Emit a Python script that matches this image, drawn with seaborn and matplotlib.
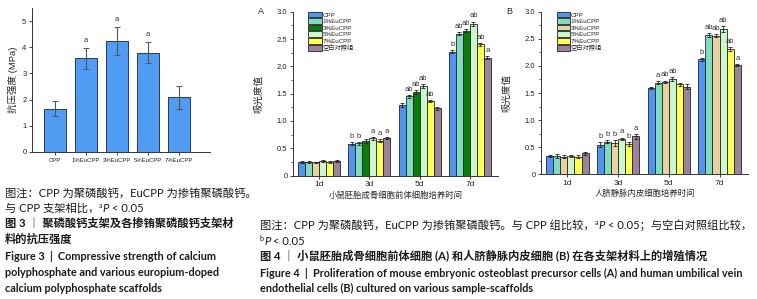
import numpy as np
import pandas as pd
import matplotlib
matplotlib.use('Agg')
import matplotlib.pyplot as plt
from matplotlib.ticker import MultipleLocator, AutoMinorLocator, FuncFormatter
import seaborn as sns

# ---- Figure 3: compressive strength ----
groups = ['CPP', '1%EuCPP', '3%EuCPP', '5%EuCPP', '7%EuCPP']
strength = [1.65, 3.58, 4.24, 3.80, 2.09]
strength_err = [0.29, 0.40, 0.52, 0.41, 0.44]
strength_sig = ['', 'a', 'a', 'a', '']

# ---- Figure 4: proliferation (absorbance) ----
days = ['1d', '3d', '5d', '7d']
series = ['CPP', '1%EuCPP', '3%EuCPP', '5%EuCPP', '7%EuCPP', '空白对照组']

a_values = [
    [0.24, 0.58, 1.29, 2.27],
    [0.25, 0.59, 1.45, 2.60],
    [0.24, 0.63, 1.53, 2.65],
    [0.26, 0.68, 1.64, 2.78],
    [0.24, 0.64, 1.37, 2.40],
    [0.27, 0.69, 1.23, 2.16],
]
a_errors = [
    [0.02, 0.03, 0.03, 0.02],
    [0.02, 0.03, 0.03, 0.03],
    [0.01, 0.03, 0.03, 0.03],
    [0.02, 0.03, 0.03, 0.04],
    [0.02, 0.03, 0.02, 0.03],
    [0.02, 0.02, 0.03, 0.02],
]
a_sig = [
    ['', 'b', '', 'b'],
    ['', 'b', 'ab', 'ab'],
    ['', '', 'ab', 'ab'],
    ['', 'a', 'ab', 'ab'],
    ['', 'a', 'ab', 'ab'],
    ['', 'a', '', 'a'],
]

b_values = [
    [0.34, 0.55, 1.60, 2.12],
    [0.34, 0.60, 1.69, 2.57],
    [0.33, 0.58, 1.71, 2.56],
    [0.34, 0.66, 1.76, 2.68],
    [0.33, 0.56, 1.66, 2.31],
    [0.39, 0.70, 1.62, 2.02],
]
b_errors = [
    [0.02, 0.04, 0.02, 0.03],
    [0.03, 0.03, 0.03, 0.03],
    [0.03, 0.05, 0.02, 0.03],
    [0.02, 0.02, 0.04, 0.05],
    [0.02, 0.03, 0.03, 0.03],
    [0.03, 0.04, 0.04, 0.02],
]
b_sig = [
    ['', 'b', '', 'b'],
    ['', 'b', 'a', 'ab'],
    ['', 'b', 'ab', 'ab'],
    ['', 'a', 'ab', 'ab'],
    ['', 'b', '', 'ab'],
    ['', 'a', '', 'a'],
]

palette_a = ['#5294f2', '#7fdcc0', '#0a7d0a', '#ccf7cc', '#ffff55', '#9a8499']
palette_b = ['#5294f2', '#7fdcc0', '#e6d3a0', '#ccf7cc', '#ffff55', '#9a8499']

sns.set_theme(style='ticks')
CHART_FONT = ['Liberation Sans', 'Noto Sans CJK SC']
CAP_FONT = ['Lato', 'Noto Sans CJK SC', 'DejaVu Sans']
plt.rcParams['font.family'] = CHART_FONT
plt.rcParams['axes.linewidth'] = 0.7
plt.rcParams['xtick.major.width'] = 0.6
plt.rcParams['ytick.major.width'] = 0.6
plt.rcParams['ytick.minor.width'] = 0.5

W, H = 757, 299
fig = plt.figure(figsize=(W / 100, H / 100), dpi=100)


def px_axes(x0, y_top, x1, y_bot):
    return fig.add_axes([x0 / W, 1 - y_bot / H, (x1 - x0) / W, (y_bot - y_top) / H])


def style_axes(ax):
    sns.despine(ax=ax)
    ax.tick_params(axis='both', direction='out', length=2.5, pad=1.5, colors='#222')
    ax.tick_params(axis='y', which='minor', length=1.5)
    for sp in ax.spines.values():
        sp.set_color('#333')


# Figure 3 chart
ax0 = px_axes(32, 8, 210, 152)
df3 = pd.DataFrame({'group': groups, 'strength': strength})
sns.barplot(data=df3, x='group', y='strength', color='#4f9cf2', saturation=1,
            width=0.7, edgecolor='#2a3a55', linewidth=0.7, errorbar=None, ax=ax0)
ax0.errorbar(range(len(groups)), strength, yerr=strength_err, fmt='none',
             ecolor='#555', elinewidth=0.8, capsize=2, capthick=0.7)
for i, (v, e, s) in enumerate(zip(strength, strength_err, strength_sig)):
    if s:
        ax0.annotate(s, (i, v + e), xytext=(0, 3), textcoords='offset points',
                     ha='center', va='bottom', fontsize=5.5, color='#333')
ax0.set_xlim(-0.74, 5.0)
ax0.set_ylim(0, 5.5)
ax0.yaxis.set_major_locator(MultipleLocator(1))
ax0.set_xlabel('')
ax0.set_ylabel('抗压强度 (MPa)', fontsize=6.8, labelpad=3)
style_axes(ax0)
ax0.tick_params(axis='x', labelsize=4.3)
ax0.tick_params(axis='y', labelsize=5.5)


def plot_absorbance(ax, values, errors, sigs, palette, xlabel, panel):
    rows = []
    for name, vals in zip(series, values):
        for d, v in zip(days, vals):
            rows.append({'day': d, 'group': name, 'od': v})
    df = pd.DataFrame(rows)
    sns.barplot(data=df, x='day', y='od', hue='group', hue_order=series,
                palette=palette, saturation=1, width=0.84, edgecolor='#222',
                linewidth=0.6, errorbar=None, ax=ax)
    for cont, err, sig in zip(ax.containers, errors, sigs):
        xs = [b.get_x() + b.get_width() / 2 for b in cont]
        hs = [b.get_height() for b in cont]
        ax.errorbar(xs, hs, yerr=err, fmt='none', ecolor='#222',
                    elinewidth=0.6, capsize=1.6, capthick=0.6)
        for x, h, e, s in zip(xs, hs, err, sig):
            if s:
                ax.annotate(s, (x, h + e), xytext=(0, 1.5), textcoords='offset points',
                            ha='center', va='bottom', fontsize=5.5, color='#333')
    ax.set_xlim(-0.52, 3.56)
    ax.set_ylim(0, 3.0)
    ax.yaxis.set_major_locator(MultipleLocator(0.5))
    ax.yaxis.set_minor_locator(AutoMinorLocator(2))
    ax.yaxis.set_major_formatter(FuncFormatter(lambda v, p: '0' if v == 0 else f'{v:.1f}'))
    ax.set_xlabel(xlabel, fontsize=6, labelpad=2)
    ax.set_ylabel('吸光度值', fontsize=6.8, labelpad=10)
    style_axes(ax)
    ax.tick_params(axis='x', labelsize=6)
    ax.tick_params(axis='y', labelsize=5.5)
    handles, labels = ax.get_legend_handles_labels()
    ax.legend(handles, labels, loc='upper left', bbox_to_anchor=(0.075, 1.0),
              frameon=False, fontsize=4.5, handlelength=2.2, handleheight=1.0,
              labelspacing=0.1, handletextpad=0.1, borderaxespad=0, borderpad=0)
    ax.text(-0.14, 1.0, panel, transform=ax.transAxes, fontsize=6.5, ha='right', va='center')


axA = px_axes(293, 11.7, 498, 175.5)
plot_absorbance(axA, a_values, a_errors, a_sig, palette_a,
                '小鼠胚胎成骨细胞前体细胞培养时间', 'A')
# the 1 d bar of the 3% group is drawn in the tan colour in the source figure
axA.containers[2][0].set_facecolor('#e6d3a0')

axB = px_axes(541, 11.7, 748, 174.4)
plot_absorbance(axB, b_values, b_errors, b_sig, palette_b,
                '人脐静脉内皮细胞培养时间', 'B')

# ---- captions ----
renderer = fig.canvas.get_renderer()


def rich_line(x, y, segments, size, weight='normal', color='#1a1a1a'):
    """segments: list of (text, style) with style in '', 'i', 'sup'"""
    cur = x
    for txt, st in segments:
        fs = size * 0.65 if st == 'sup' else size
        yy = y - (size * 0.55 if st == 'sup' else 0)
        t = fig.text(cur / W, 1 - yy / H, txt, fontsize=fs, family=CAP_FONT,
                     fontweight=weight, fontstyle='italic' if st == 'i' else 'normal',
                     color=color, ha='left', va='baseline')
        cur = t.get_window_extent(renderer).x1


cap = 8.1
eng = 7.85
# Figure 3 caption (left column)
rich_line(5, 197, [('图注：CPP 为聚磷酸钙，EuCPP 为掺铕聚磷酸钙。', '')], cap)
rich_line(5, 212, [('与 CPP 支架相比，', ''), ('a', 'sup'), ('P', 'i'), (' < 0.05', '')], cap)
rich_line(5, 227, [('图 3 ｜ 聚磷酸钙支架及各掺铕聚磷酸钙支架材', '')], cap, weight='bold')
rich_line(5, 243, [('料的抗压强度', '')], cap, weight='bold')
rich_line(5, 260, [('Figure 3  |  Compressive strength of calcium', '')], eng, weight='bold')
rich_line(5, 276, [('polyphosphate and various europium-doped', '')], eng, weight='bold')
rich_line(5, 292, [('calcium polyphosphate scaffolds', '')], eng, weight='bold')

# Figure 4 caption
rich_line(260, 229, [('图注：CPP 为聚磷酸钙，EuCPP 为掺铕聚磷酸钙。与 CPP 组比较，', ''), ('a', 'sup'),
                     ('P', 'i'), (' < 0.05；与空白对照组比较，', '')], cap)
rich_line(260, 245, [('b', 'sup'), ('P', 'i'), (' < 0.05', '')], cap)
rich_line(260, 260, [('图 4 ｜ 小鼠胚胎成骨细胞前体细胞 (A) 和人脐静脉内皮细胞 (B) 在各支架材料上的增殖情况', '')],
          cap, weight='bold')
rich_line(260, 277, [('Figure 4  |  Proliferation of mouse embryonic osteoblast precursor cells (A) and human umbilical vein', '')],
          eng, weight='bold')
rich_line(260, 292, [('endothelial cells (B) cultured on various sample-scaffolds', '')], eng, weight='bold')

fig.savefig('out.png', dpi=100)
